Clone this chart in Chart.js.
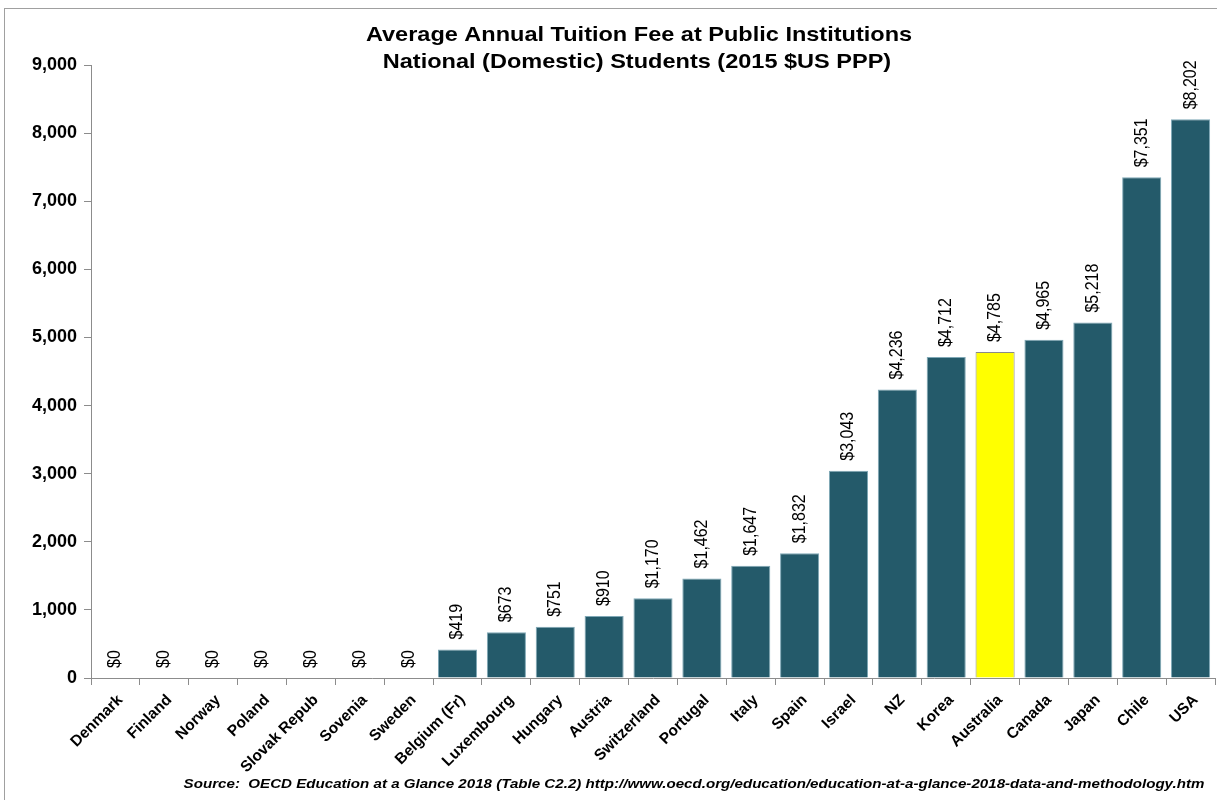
<!DOCTYPE html>
<html>
<head>
<meta charset="utf-8">
<script src="https://cdn.jsdelivr.net/npm/chart.js@4.4.1/dist/chart.umd.min.js"></script>
<style>
  body { margin: 0; background: #fff; }
  #wrap { width: 1217px; height: 800px; position: relative; }
</style>
</head>
<body>
<div id="wrap"><canvas id="grafica_cuotas"></canvas></div>
<script>
const paises = ['Denmark', 'Finland', 'Norway', 'Poland', 'Slovak Repub', 'Sovenia', 'Sweden',
  'Belgium (Fr)', 'Luxembourg', 'Hungary', 'Austria', 'Switzerland', 'Portugal', 'Italy', 'Spain',
  'Israel', 'NZ', 'Korea', 'Australia', 'Canada', 'Japan', 'Chile', 'USA'];
const cuotas = [0, 0, 0, 0, 0, 0, 0, 419, 673, 751, 910, 1170, 1462, 1647, 1832,
  3043, 4236, 4712, 4785, 4965, 5218, 7351, 8202];
const destacado = 'Australia';
const titulo = ['Average Annual Tuition Fee at Public Institutions', 'National (Domestic) Students (2015 $US PPP)'];
const fuente = 'Source:  OECD Education at a Glance 2018 (Table C2.2) http://www.oecd.org/education/education-at-a-glance-2018-data-and-methodology.htm';

const fuenteBase = 'Liberation Sans, Arial, sans-serif';
const estirar = 1.12; // el original esta algo ensanchado

// etiquetas verticales encima de cada barra
const etiquetas = {
  id: 'etiquetas',
  afterDatasetsDraw(chart) {
    const ctx = chart.ctx;
    const meta = chart.getDatasetMeta(0);
    ctx.save();
    ctx.fillStyle = '#000';
    ctx.font = '16px ' + fuenteBase;
    ctx.textAlign = 'left';
    ctx.textBaseline = 'middle';
    meta.data.forEach((bar, i) => {
      ctx.save();
      ctx.translate(bar.x, bar.y - 10);
      ctx.scale(estirar, 1);
      ctx.rotate(-Math.PI / 2);
      ctx.fillText('$' + cuotas[i].toLocaleString('en-US'), 0, 0);
      ctx.restore();
    });
    ctx.restore();
  }
};

function textoAncho(ctx, t, x, y) {
  ctx.save();
  ctx.translate(x, y);
  ctx.scale(estirar, 1);
  ctx.fillText(t, 0, 0);
  ctx.restore();
}

// titulo, fuente y marco
const adornos = {
  id: 'adornos',
  afterDraw(chart) {
    const ctx = chart.ctx;
    ctx.save();
    ctx.strokeStyle = '#a0a0a0';
    ctx.lineWidth = 1;
    ctx.strokeRect(4.5, 8.5, 1230, 820);
    ctx.fillStyle = '#000';
    ctx.textAlign = 'center';
    ctx.textBaseline = 'middle';
    ctx.font = 'bold 21px ' + fuenteBase;
    textoAncho(ctx, titulo[0], 639, 35);
    textoAncho(ctx, titulo[1], 637, 62);
    ctx.font = 'italic bold 13.5px ' + fuenteBase;
    textoAncho(ctx, fuente, 694, 784);
    ctx.restore();
  }
};

const ctx1 = document.getElementById('grafica_cuotas').getContext('2d');

new Chart(ctx1, {
  type: 'bar',
  data: {
    labels: paises,
    datasets: [
      {
        label: 'Tuition fee',
        data: cuotas,
        backgroundColor: paises.map(p => p === destacado ? '#ffff00' : '#245a6a'),
        borderColor: paises.map(p => p === destacado ? '#8a8a8a' : '#7fa8b6'),
        borderWidth: 1,
        barPercentage: 0.8,
        categoryPercentage: 1
      }
    ]
  },
  options: {
    responsive: true,
    maintainAspectRatio: false,
    animation: false,
    layout: { padding: { top: 65, right: 2, left: 0, bottom: 0 } },
    plugins: {
      legend: { display: false },
      title: { display: false },
      tooltip: { enabled: false }
    },
    scales: {
      x: {
        afterFit: s => { s.height = 122; },
        grid: { drawOnChartArea: false, drawTicks: true, tickLength: 7, color: '#8c8c8c' },
        border: { color: '#8c8c8c' },
        ticks: {
          autoSkip: false,
          minRotation: 45,
          maxRotation: 45,
          padding: 6,
          labelOffset: 5,
          color: '#000',
          font: { family: fuenteBase, size: 15.5, weight: 'bold' }
        }
      },
      y: {
        min: 0,
        max: 9000,
        afterFit: s => { s.width = 91; },
        grid: { drawOnChartArea: false, drawTicks: true, tickLength: 7, color: '#8c8c8c' },
        border: { color: '#8c8c8c' },
        ticks: {
          stepSize: 1000,
          padding: 7,
          color: '#000',
          font: { family: fuenteBase, size: 18, weight: 'bold' },
          callback: v => v.toLocaleString('en-US')
        }
      }
    }
  },
  plugins: [etiquetas, adornos]
});
</script>
</body>
</html>
